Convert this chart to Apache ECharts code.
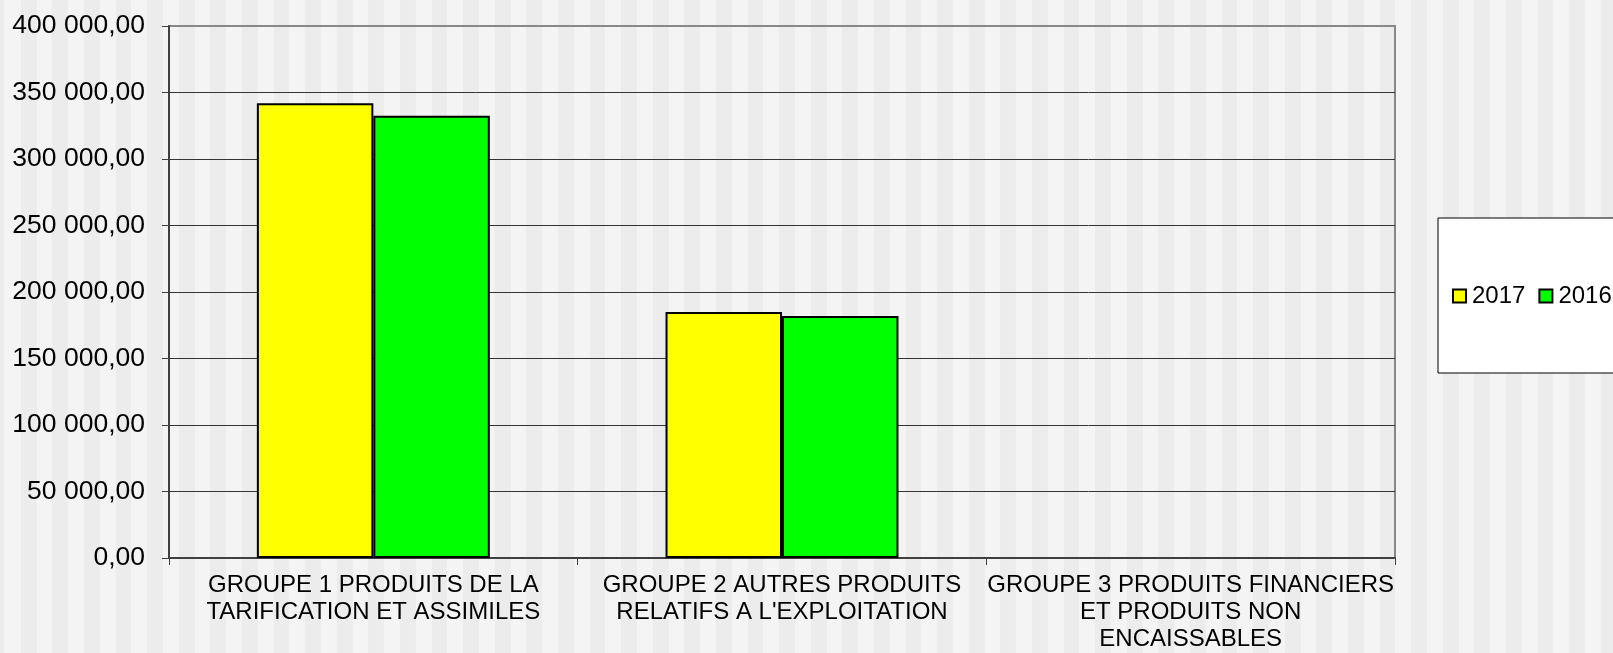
<!DOCTYPE html>
<html>
<head>
<meta charset="utf-8">
<script src="https://cdn.jsdelivr.net/npm/echarts@6/dist/echarts.min.js"></script>
<style>
html,body{margin:0;padding:0;}
#chart{width:1613px;height:653px;
background:repeating-linear-gradient(90deg,#f4f4f4 0px,#f4f4f4 15.8px,#ececec 15.8px,#ececec 31.6px);
background-position:4.9px 0;}
</style>
</head>
<body>
<div id="chart"></div>
<script>
var categories = [
  "GROUPE 1 PRODUITS DE LA\nTARIFICATION ET ASSIMILES",
  "GROUPE 2 AUTRES PRODUITS\nRELATIFS A L'EXPLOITATION",
  "GROUPE 3 PRODUITS FINANCIERS\nET PRODUITS NON\nENCAISSABLES"
];
var seriesNames = ["2017", "2016"];
var values2017 = [342000, 185000, null];
var values2016 = [332500, 182000, null];
var yMin = 0, yMax = 400000, yInterval = 50000;

function fmt(v){
  var s = String(Math.round(v));
  s = s.replace(/\B(?=(\d{3})+(?!\d))/g, ' ');
  return s + ',00';
}
var FONT = "'Liberation Sans', Arial, sans-serif";
var chart = echarts.init(document.getElementById('chart'), null, {renderer:'canvas'});
chart.setOption({
  backgroundColor: 'transparent',
  animation: false,
  grid: {left:169, right:218, top:26, bottom:92, show:true, borderColor:'#888', borderWidth:2, backgroundColor:'transparent'},
  legend: {
    type: 'plain',
    left: 1438, top: 218,
    width: 260,
    orient: 'horizontal',
    backgroundColor: '#fff',
    borderColor: '#000', borderWidth: 1,
    padding: [66, 40, 65, 14],
    itemWidth: 13, itemHeight: 13, itemGap: 13,
    icon: 'rect',
    textStyle: {fontFamily: FONT, fontSize: 24, color: '#000', padding:[0,0,0,1]},
    data: seriesNames
  },
  xAxis: {
    type: 'category',
    data: categories,
    boundaryGap: true,
    axisLine: {show:true, lineStyle:{color:'#404040', width:2}},
    axisTick: {show:true, length:7, inside:false, alignWithLabel:false, lineStyle:{color:'#404040', width:1}},
    axisLabel: {fontFamily: FONT, fontSize: 24, color:'#000', margin:14, lineHeight:27, interval:0}
  },
  yAxis: {
    type: 'value',
    min: yMin, max: yMax, interval: yInterval,
    axisLine: {show:true, lineStyle:{color:'#404040', width:2}},
    axisTick: {show:true, length:7, lineStyle:{color:'#404040', width:1}},
    splitLine: {show:true, lineStyle:{color:['#333','#333','#333','#333','#333','#333','#333','#333','#888'], width:1}},
    axisLabel: {fontFamily: FONT, fontSize: 26.5, color:'#000', margin:24, formatter: fmt}
  },
  series: [
    {name: seriesNames[0], type:'bar', data: values2017, barGap:'0%', barCategoryGap:'43%',
     itemStyle:{color:'#ffff00', borderColor:'#000', borderWidth:2}},
    {name: seriesNames[1], type:'bar', data: values2016, barGap:'0%', barCategoryGap:'43%',
     itemStyle:{color:'#00ff00', borderColor:'#000', borderWidth:2}}
  ]
});
</script>
</body>
</html>
